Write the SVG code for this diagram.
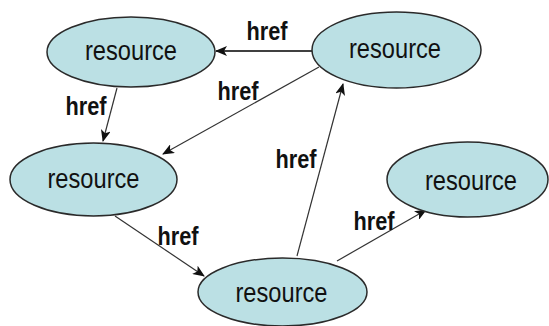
<svg xmlns="http://www.w3.org/2000/svg" width="549" height="326" viewBox="0 0 549 326">
  <style>
    .node ellipse { fill: #bbe0e4; stroke: #2a2a2a; stroke-width: 1.5; }
    .node text { font-family: "Liberation Sans", Arial, sans-serif; font-size: 27px; fill: #111; text-anchor: middle; }
    .edge { fill: none; stroke: #333; stroke-width: 1.2; marker-end: url(#arrow); }
    .label { font-family: "Liberation Sans", Arial, sans-serif; font-size: 25px; font-weight: bold; fill: #111; text-anchor: middle; }
  </style>
  <defs>
    <marker id="arrow" viewBox="0 0 12 10" refX="11" refY="5" markerWidth="12" markerHeight="10" markerUnits="userSpaceOnUse" orient="auto">
      <path d="M0,0 L12,5 L0,10 L3,5 z" fill="#111"/>
    </marker>
  </defs>
  <rect width="549" height="326" fill="#ffffff"/>

  <!-- links between resources -->
  <g id="connectors">
    <line class="edge" x1="312" y1="51" x2="216" y2="51" style="stroke:#000;stroke-width:1.5"/>
    <line class="edge" x1="319" y1="67" x2="163" y2="154"/>
    <line class="edge" x1="117" y1="88" x2="103" y2="141"/>
    <line class="edge" x1="115" y1="216" x2="204" y2="276"/>
    <line class="edge" x1="297" y1="256" x2="343" y2="84"/>
    <line class="edge" x1="337" y1="261" x2="426" y2="210"/>
    <text class="label" x="267" y="40" textLength="41" lengthAdjust="spacingAndGlyphs">href</text>
    <text class="label" x="238" y="100" textLength="41" lengthAdjust="spacingAndGlyphs">href</text>
    <text class="label" x="86" y="115" textLength="41" lengthAdjust="spacingAndGlyphs">href</text>
    <text class="label" x="178" y="245" textLength="41" lengthAdjust="spacingAndGlyphs">href</text>
    <text class="label" x="296" y="168" textLength="41" lengthAdjust="spacingAndGlyphs">href</text>
    <text class="label" x="374" y="230" textLength="41" lengthAdjust="spacingAndGlyphs">href</text>
  </g>

  <!-- resources -->
  <g id="res-top-left" class="node">
    <ellipse cx="131" cy="52" rx="84" ry="35"/>
    <text x="131" y="60" textLength="92" lengthAdjust="spacingAndGlyphs">resource</text>
  </g>
  <g id="res-top-right" class="node">
    <ellipse cx="396.5" cy="50" rx="84.5" ry="38"/>
    <text x="395" y="58" textLength="92" lengthAdjust="spacingAndGlyphs">resource</text>
  </g>
  <g id="res-middle-left" class="node">
    <ellipse cx="93.5" cy="179.5" rx="83.5" ry="36.5"/>
    <text x="93.5" y="188" textLength="92" lengthAdjust="spacingAndGlyphs">resource</text>
  </g>
  <g id="res-right" class="node">
    <ellipse cx="467.5" cy="179.5" rx="80.5" ry="37.5"/>
    <text x="471" y="190" textLength="92" lengthAdjust="spacingAndGlyphs">resource</text>
  </g>
  <g id="res-bottom" class="node">
    <ellipse cx="282.5" cy="292" rx="84.5" ry="34"/>
    <text x="281.5" y="302" textLength="92" lengthAdjust="spacingAndGlyphs">resource</text>
  </g>
</svg>
